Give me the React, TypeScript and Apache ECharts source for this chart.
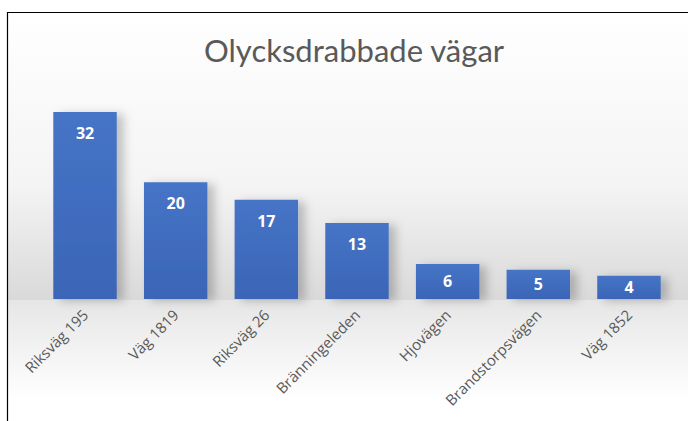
import React, { useEffect, useRef } from "react";
import * as echarts from "echarts";

const categories = ["Riksväg 195", "Väg 1819", "Riksväg 26", "Bränningeleden", "Hjovägen", "Brandstorpsvägen", "Väg 1852"];
const values = [32, 20, 17, 13, 6, 5, 4];
const titleText = "Olycksdrabbade vägar";

export default function App() {
  const ref = useRef<HTMLDivElement>(null);
  useEffect(() => {
    if (!ref.current) return;
    const chart = echarts.init(ref.current, undefined, { renderer: "svg" });
    chart.setOption({
      animation: false,
      backgroundColor: "#ffffff",
      title: {
        text: titleText,
        left: 199,
        top: 29,
        textStyle: { fontFamily: "Lato", fontSize: 31, fontWeight: "normal", color: "#595959" },
      },
      graphic: [
        {
          type: "rect",
          z: -10,
          silent: true,
          shape: { x: 8, y: 13, width: 690, height: 287 },
          style: {
            fill: new echarts.graphic.LinearGradient(0, 0, 0, 1, [
              { offset: 0, color: "#ffffff" },
              { offset: 0.6, color: "#f4f4f4" },
              { offset: 1, color: "#d9d9d9" },
            ]),
          },
        },
        {
          type: "rect",
          z: -10,
          silent: true,
          shape: { x: 8, y: 300, width: 690, height: 125 },
          style: {
            fill: new echarts.graphic.LinearGradient(0, 0, 0, 1, [
              { offset: 0, color: "#e6e6e6" },
              { offset: 0.8, color: "#ffffff" },
              { offset: 1, color: "#ffffff" },
            ]),
          },
        },
        {
          type: "rect",
          z: 100,
          silent: true,
          shape: { x: 7.5, y: 12.5, width: 700, height: 430 },
          style: { fill: "none", stroke: "#000000", lineWidth: 1.2 },
        },
      ],
      grid: { left: 39.7, right: 13.7, top: 94.5, bottom: 122, containLabel: false },
      xAxis: {
        type: "category",
        data: categories,
        axisLine: { show: false },
        axisTick: { show: false },
        axisLabel: {
          rotate: 45,
          margin: 13,
          interval: 0,
          fontFamily: "Open Sans",
          fontSize: 15,
          color: "#595959",
        },
      },
      yAxis: { type: "value", min: 0, max: 35, show: false, splitLine: { show: false } },
      series: [
        {
          type: "bar",
          barCategoryGap: "30%",
          data: values.map((v) => ({
            value: v,
            label: v <= 6 ? { position: "inside" } : { position: "insideTop", distance: 13 },
          })),
          itemStyle: {
            color: new echarts.graphic.LinearGradient(0, 0, 0, 1, [
              { offset: 0, color: "#4674c6" },
              { offset: 1, color: "#3b65b7" },
            ]),
            shadowColor: "rgba(0,0,0,0.22)",
            shadowBlur: 10,
            shadowOffsetX: 7,
            shadowOffsetY: 2,
          },
          label: {
            show: true,
            color: "#ffffff",
            fontFamily: "Open Sans",
            fontWeight: "bold",
            fontSize: 16,
          },
        },
      ],
    });
    return () => chart.dispose();
  }, []);
  return <div ref={ref} style={{ position: "absolute", left: 0, top: 0, width: 688, height: 421 }} />;
}
